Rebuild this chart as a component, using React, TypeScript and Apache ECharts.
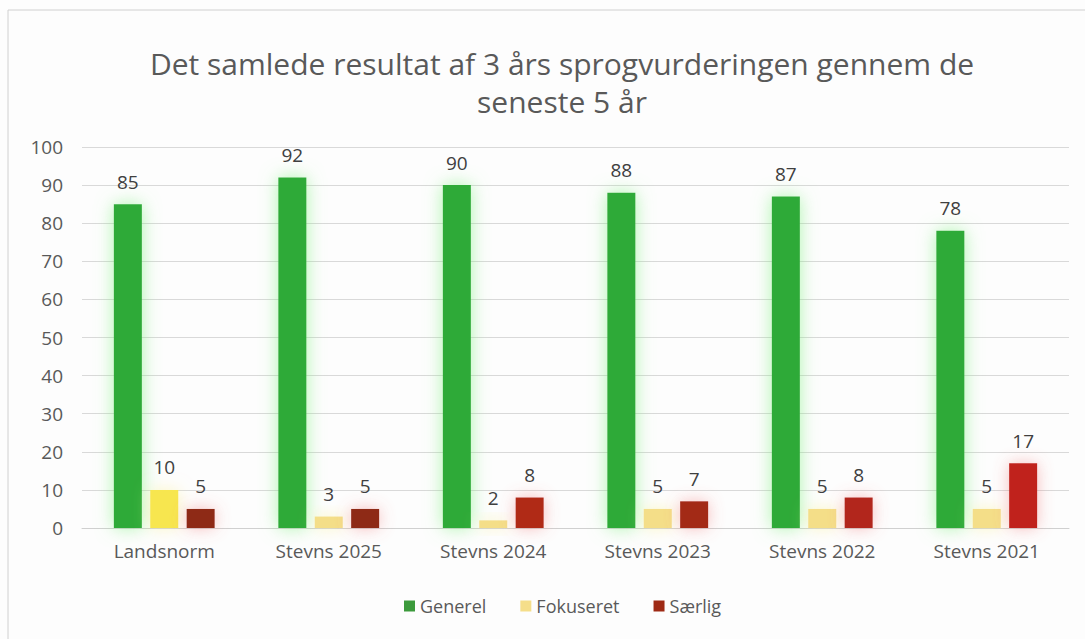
import React, { useEffect, useRef } from "react";
import * as echarts from "echarts";

const categories = ["Landsnorm", "Stevns 2025", "Stevns 2024", "Stevns 2023", "Stevns 2022", "Stevns 2021"];
const generel = [85, 92, 90, 88, 87, 78];
const fokuseret = [10, 3, 2, 5, 5, 5];
const saerlig = [5, 5, 8, 7, 8, 17];
const fokuseretColors = ["#F7E64F", "#F4DE88", "#F4DE88", "#F4DE88", "#F4DE88", "#F4DE88"];
const saerligColors = ["#8E2B16", "#8E2B16", "#B02A18", "#A32916", "#B2261A", "#C0231D"];
const titleText = "Det samlede resultat af 3 års sprogvurderingen gennem de\nseneste 5 år";

export default function App() {
  const ref = useRef<HTMLDivElement>(null);
  useEffect(() => {
    if (!ref.current) return;
    const chart = echarts.init(ref.current, null, { renderer: "svg" });
    const labelStyle = { show: true, position: "top", color: "#404040", fontSize: 19, fontFamily: "Open Sans", distance: 13 };
    chart.setOption({
      animation: false,
      backgroundColor: "#FDFDFD",
      title: {
        text: titleText,
        left: 557,
        textAlign: "center",
        top: 39,
        textStyle: { color: "#595959", fontSize: 30, fontWeight: "normal", fontFamily: "Open Sans", lineHeight: 38 },
      },
      graphic: [
        { type: "rect", shape: { x: 8, y: 10, width: 1200, height: 800 }, style: { fill: "none", stroke: "#D0D0D0", lineWidth: 1 }, silent: true },
      ],
      legend: {
        bottom: 19,
        left: 399,
        itemWidth: 11,
        itemHeight: 11,
        itemGap: 34,
        icon: "rect",
        textStyle: { color: "#595959", fontSize: 18, fontFamily: "Open Sans" },
        data: [
          { name: "Generel", itemStyle: { color: "#3C9A3C" } },
          { name: "Fokuseret", itemStyle: { color: "#F5DE8A" } },
          { name: "Særlig", itemStyle: { color: "#9E2A15" } },
        ],
      },
      grid: { left: 82, right: 16, top: 147, bottom: 111 },
      xAxis: {
        type: "category",
        data: categories,
        axisLine: { lineStyle: { color: "#D0D0D0" } },
        axisTick: { show: false },
        axisLabel: { color: "#595959", fontSize: 19, fontFamily: "Open Sans", margin: 13 },
      },
      yAxis: {
        type: "value",
        min: 0,
        max: 100,
        interval: 10,
        axisLine: { show: false },
        axisTick: { show: false },
        splitLine: { lineStyle: { color: "#D9D9D9", width: 1 } },
        axisLabel: { color: "#595959", fontSize: 19, fontFamily: "Open Sans", margin: 19 },
      },
      series: [
        {
          name: "Generel",
          type: "bar",
          data: generel,
          barWidth: 28,
          barGap: "30%",
          itemStyle: { color: "#2DAA38", shadowBlur: 18, shadowColor: "rgba(120,240,120,0.6)" },
          label: labelStyle,
        },
        {
          name: "Fokuseret",
          type: "bar",
          data: fokuseret.map((v, i) => ({ value: v, itemStyle: { color: fokuseretColors[i] } })),
          barWidth: 28,
          itemStyle: { shadowBlur: 16, shadowColor: "rgba(250,240,150,0.55)" },
          label: labelStyle,
        },
        {
          name: "Særlig",
          type: "bar",
          data: saerlig.map((v, i) => ({ value: v, itemStyle: { color: saerligColors[i] } })),
          barWidth: 28,
          itemStyle: { shadowBlur: 16, shadowColor: "rgba(240,110,110,0.45)" },
          label: labelStyle,
        },
      ],
    });
    return () => chart.dispose();
  }, []);
  return <div ref={ref} style={{ position: "fixed", left: 0, top: 0, width: 1085, height: 639 }} />;
}
